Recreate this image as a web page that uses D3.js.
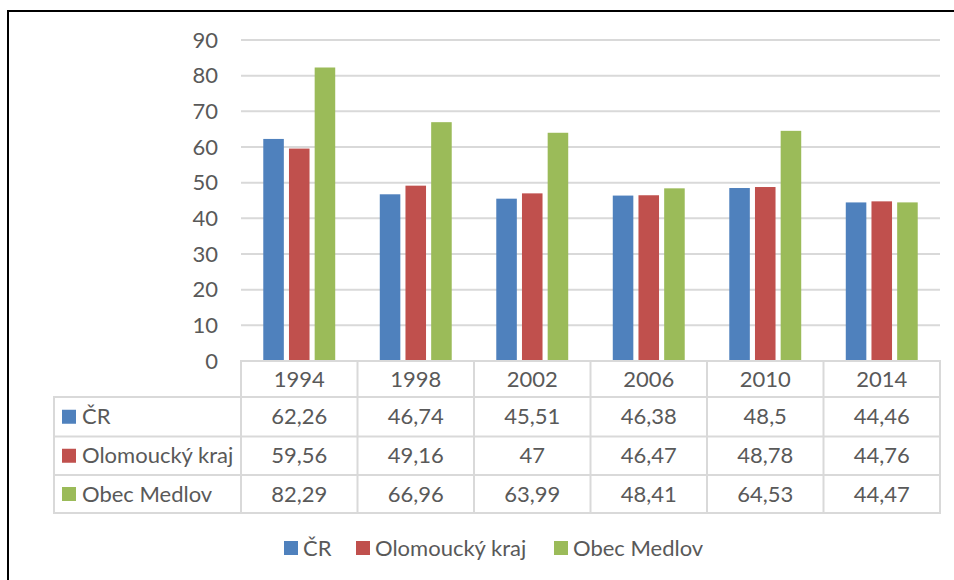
<!DOCTYPE html>
<html>
<head>
<meta charset="utf-8">
<script src="https://cdn.jsdelivr.net/npm/d3@7"></script>
<style>
  body { margin: 0; background: #fff; }
  svg { display: block; font-family: Lato, "Open Sans", sans-serif; }
</style>
</head>
<body>
<div id="chart"></div>
<script>
// hodnoty z grafu
const years = ["1994", "1998", "2002", "2006", "2010", "2014"];
const seriesNames = ["ČR", "Olomoucký kraj", "Obec Medlov"];
const seriesColors = ["#4f81bd", "#c0504d", "#9bbb59"];
const valuesCR = [62.26, 46.74, 45.51, 46.38, 48.5, 44.46];
const valuesOlomouc = [59.56, 49.16, 47, 46.47, 48.78, 44.76];
const valuesMedlov = [82.29, 66.96, 63.99, 48.41, 64.53, 44.47];
const yTicks = [0, 10, 20, 30, 40, 50, 60, 70, 80, 90];

const allValues = [valuesCR, valuesOlomouc, valuesMedlov];
const width = 954, height = 580;
const plot = { left: 241, right: 940, top: 40, bottom: 361 };
const rowY = [361, 397, 436.5, 475, 513];
const tableLeft = 54;
const textColor = "#595959", gridColor = "#d9d9d9", fontSize = 22;

const fmt = v => String(v).replace('.', ',');

const svg = d3.select('#chart').append('svg')
    .attr('width', width).attr('height', height);

// rámeček
svg.append('rect').attr('x', 8).attr('y', 11).attr('width', 1000).attr('height', 1000)
    .attr('fill', 'none').attr('stroke', '#000').attr('stroke-width', 2);

const x = d3.scaleBand().domain(years).range([plot.left, plot.right]).padding(0);
const x1 = d3.scaleBand().domain(seriesNames).range([0, x.bandwidth()])
    .paddingInner(0.2).paddingOuter(0.867);
const y = d3.scaleLinear().domain([0, 90]).range([plot.bottom, plot.top]);

// mřížka
svg.append('g').selectAll('line').data(yTicks.filter(d => d > 0)).enter().append('line')
    .attr('x1', plot.left).attr('x2', plot.right)
    .attr('y1', d => y(d)).attr('y2', d => y(d))
    .attr('stroke', gridColor).attr('stroke-width', 2);

// popisky osy y
const yAxis = d3.axisLeft(y).tickValues(yTicks).tickSize(0).tickPadding(0);
const ya = svg.append('g').attr('transform', `translate(218,0)`).call(yAxis);
ya.select('.domain').remove();
ya.selectAll('text').attr('font-size', fontSize).attr('fill', textColor)
    .attr('font-family', 'Lato, "Open Sans", sans-serif');

// sloupce
const groups = svg.append('g').selectAll('g').data(years).enter().append('g')
    .attr('transform', d => `translate(${x(d)},0)`);
groups.selectAll('rect').data((yr, i) => seriesNames.map((s, k) => ({ s, k, v: allValues[k][i] })))
    .enter().append('rect')
    .attr('x', d => x1(d.s)).attr('width', x1.bandwidth())
    .attr('y', d => y(d.v)).attr('height', d => y(0) - y(d.v))
    .attr('fill', d => seriesColors[d.k]);

// tabulka dat
const tg = svg.append('g');
const hLines = [
    { y: rowY[0], x1: plot.left, x2: plot.right },
    { y: rowY[1], x1: tableLeft, x2: plot.right },
    { y: rowY[2], x1: tableLeft, x2: plot.right },
    { y: rowY[3], x1: tableLeft, x2: plot.right },
    { y: rowY[4], x1: tableLeft, x2: plot.right }
];
tg.selectAll('line.h').data(hLines).enter().append('line').attr('class', 'h')
    .attr('x1', d => d.x1 - 1).attr('x2', d => d.x2 + 1).attr('y1', d => d.y).attr('y2', d => d.y)
    .attr('stroke', gridColor).attr('stroke-width', 2);
const vx = years.map(yr => x(yr)).concat([plot.right]);
tg.selectAll('line.v').data(vx).enter().append('line').attr('class', 'v')
    .attr('x1', d => d).attr('x2', d => d).attr('y1', rowY[0]).attr('y2', rowY[4])
    .attr('stroke', gridColor).attr('stroke-width', 2);
tg.append('line').attr('x1', tableLeft).attr('x2', tableLeft).attr('y1', rowY[1]).attr('y2', rowY[4])
    .attr('stroke', gridColor).attr('stroke-width', 2);

// hlavička let
tg.selectAll('text.yr').data(years).enter().append('text').attr('class', 'yr')
    .attr('x', d => x(d) + x.bandwidth() / 2).attr('y', (rowY[0] + rowY[1]) / 2)
    .attr('dy', '0.35em').attr('text-anchor', 'middle')
    .attr('font-size', fontSize).attr('fill', textColor).text(d => d);

// řádky
seriesNames.forEach((s, k) => {
    const cy = (rowY[k + 1] + rowY[k + 2]) / 2;
    tg.append('rect').attr('x', 62).attr('y', cy - 7).attr('width', 14).attr('height', 14)
        .attr('fill', seriesColors[k]);
    tg.append('text').attr('x', 82).attr('y', cy).attr('dy', '0.35em')
        .attr('font-size', fontSize).attr('fill', textColor).text(s);
    tg.selectAll(null).data(allValues[k]).enter().append('text')
        .attr('x', (d, i) => x(years[i]) + x.bandwidth() / 2).attr('y', cy).attr('dy', '0.35em')
        .attr('text-anchor', 'middle').attr('font-size', fontSize).attr('fill', textColor)
        .text(d => fmt(d));
});

// legenda
const legendX = [284, 356, 554];
const lg = svg.append('g');
seriesNames.forEach((s, k) => {
    lg.append('rect').attr('x', legendX[k]).attr('y', 541).attr('width', 14).attr('height', 14)
        .attr('fill', seriesColors[k]);
    lg.append('text').attr('x', legendX[k] + 19).attr('y', 548).attr('dy', '0.35em')
        .attr('font-size', fontSize).attr('fill', textColor).text(s);
});
</script>
</body>
</html>
